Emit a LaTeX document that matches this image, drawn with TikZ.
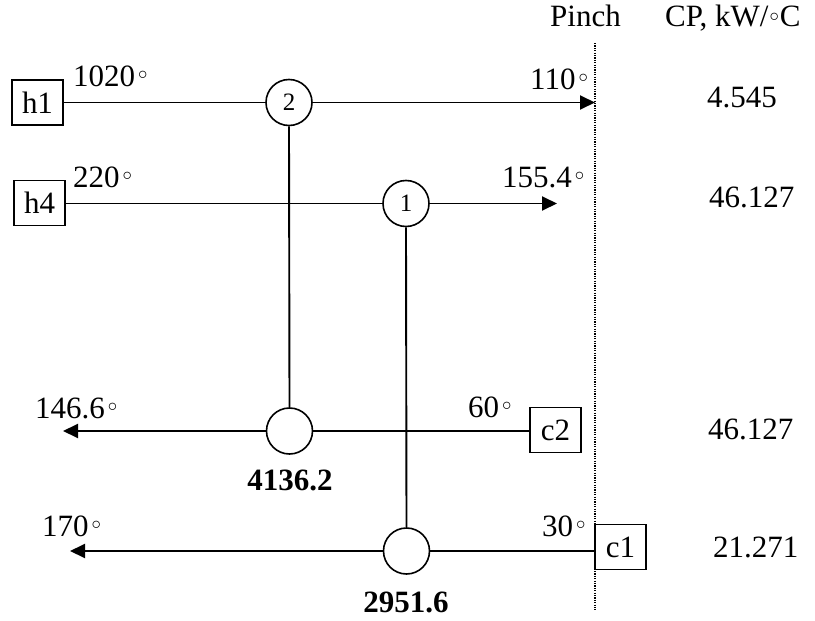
\documentclass[tikz,border=0pt]{standalone}
\usepackage{fontspec}
\setmainfont{Liberation Serif}
\usetikzlibrary{arrows.meta}
\begin{document}
\begin{tikzpicture}[x=1pt,y=-1pt,
  font=\fontsize{31}{36}\selectfont,
  stream/.style={line width=1.9pt},
  flow/.style={line width=1.9pt,-{Triangle[length=15pt,width=14pt]}},
  streambox/.style={draw,line width=1.6pt,minimum width=51pt,minimum height=45pt,inner sep=0pt},
  hx/.style={draw,circle,line width=1.6pt,minimum size=46pt,inner sep=0pt,fill=white,font=\fontsize{25}{30}\selectfont},
  lbl/.style={anchor=base west,inner sep=0pt},
  val/.style={anchor=base west,inner sep=0pt},
  duty/.style={anchor=base,inner sep=0pt,font=\fontsize{31}{36}\selectfont\bfseries}]
\useasboundingbox (0,0) rectangle (815,621);
\newcommand{\ring}{\scalebox{1.3}{$\scriptscriptstyle\circ$}}
\newcommand{\dg}{\hspace{3pt}\raisebox{7pt}{\ring}}

% pinch line
\coordinate (ptop) at (595,43);
\coordinate (pbot) at (595,610);
\draw[line width=1.2pt,dash pattern=on 1.2pt off 1.2pt] (ptop) -- (pbot);

% stream boxes
\node[streambox] (h1) at (37.5,102.5) {h1};
\node[streambox] (h4) at (39.5,203) {h4};
\node[streambox] (c2) at (555.5,430) {c2};
\node[streambox] (c1) at (620.5,547) {c1};

% exchangers
\node[hx] (e2) at (289,102.5) {\raisebox{-3pt}{2}};
\node[hx] (e1) at (406,203.5) {\raisebox{-3pt}{1}};
\node[hx] (e2b) at (289.5,431) {};
\node[hx] (e1b) at (406.5,551) {};

% end coordinates
\coordinate (h1end) at (595,102.5);
\coordinate (h4end) at (557,203.5);
\coordinate (c2end) at (63,431);
\coordinate (c1end) at (70,551);

% streams
\draw[stream] (h1.east |- e2) -- (e2.west);
\draw[flow] (e2.east) -- (h1end);
\draw[stream] (h4.east |- e1) -- (e1.west);
\draw[flow] (e1.east) -- (h4end);
\draw[stream] (c2.west |- e2b) -- (e2b.east);
\draw[flow] (e2b.west) -- (c2end);
\draw[stream] (c1.west |- e1b) -- (e1b.east);
\draw[flow] (e1b.west) -- (c1end);

% matches
\draw[stream] (e2.south) -- (e2b.north);
\draw[stream] (e1.south) -- (e1b.north);

% temperatures
\node[lbl] (t1) at (73,86) {1020\dg};
\node[lbl] (t2) at (73,187) {220\dg};
\node[lbl] (t3) at (530,89) {110\dg};
\node[lbl] (t4) at (502,187) {155.4\dg};
\node[lbl] (t5) at (35,418) {146.6\dg};
\node[lbl] (t6) at (468,417) {60\dg};
\node[lbl] (t7) at (42,536) {170\dg};
\node[lbl] (t8) at (542,536) {30\dg};

% headers
\node[lbl] (pinch) at (550,27) {Pinch};
\node[lbl] (cp) at (665,27) {CP, kW/\hspace{1pt}\raisebox{5pt}{\ring}\hspace{1pt}C};

% CP values
\node[val] (v1) at (707,107) {4.545};
\node[val] (v2) at (709,207) {46.127};
\node[val] (v3) at (708,439) {46.127};
\node[val] (v4) at (713,557) {21.271};

% duties
\node[duty] (d1) at (290,490) {4136.2};
\node[duty] (d2) at (406,612) {2951.6};
\end{tikzpicture}
\end{document}
